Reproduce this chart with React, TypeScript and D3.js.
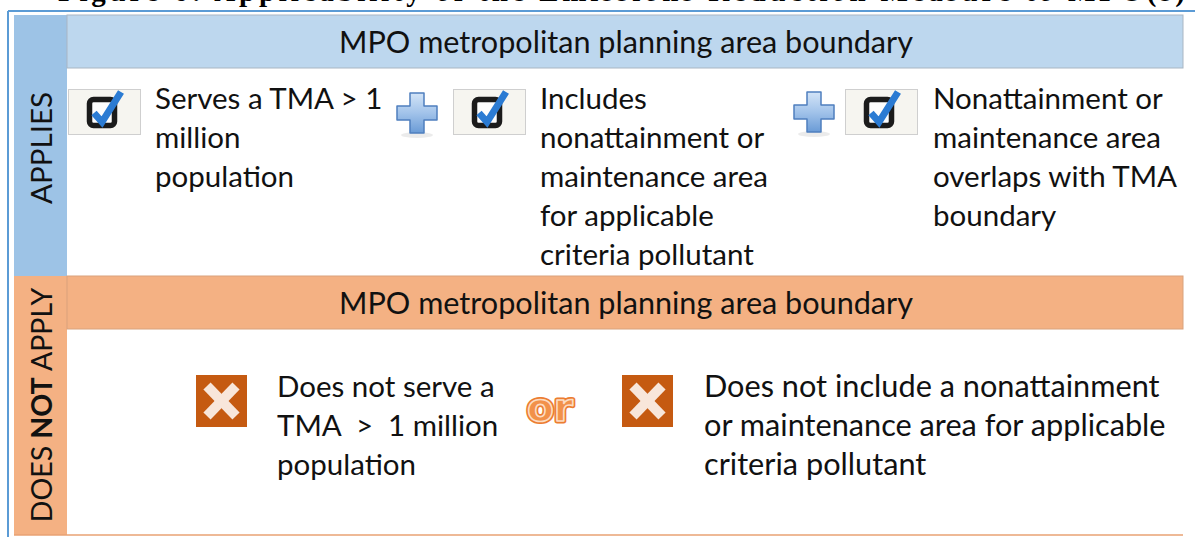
import * as d3 from 'd3';

// text content of the diagram
const titleText = 'Figure 6: Applicability of the Emissions Reduction Measure to MPO(s)';
const headerLabel = 'MPO metropolitan planning area boundary';
const sectionLabels = ['APPLIES', 'DOES NOT APPLY'];
const appliesCriteria = [
  ['Serves a TMA > 1', 'million', 'population'],
  ['Includes', 'nonattainment or', 'maintenance area', 'for applicable', 'criteria pollutant'],
  ['Nonattainment or', 'maintenance area', 'overlaps with TMA', 'boundary'],
];
const notApplyCriteria = [
  ['Does not serve a', 'TMA  >  1 million', 'population'],
  ['Does not include a nonattainment', 'or maintenance area for applicable', 'criteria pollutant'],
];
const connectorWord = 'or';

// layout
const W = 1195;
const H = 537;
const colLeft = 14;
const colRight = 67;
const panelRight = 1183;
const topY = 15;
const splitY = 276;
const headerH = 53;
const bottomY = 535;
const lineH = 39;
const fontSize = 29.5;
const headerFontSize = 30.6;
const textFont = 'Lato, "Open Sans", sans-serif';

const blueDark = '#9dc3e6';
const blueLight = '#bdd7ee';
const orange = '#f4b183';
const xOrange = '#c55a11';

const checkX = [68, 453, 845];
const checkY = 89;
const textX = d3.scaleOrdinal<number, number>().domain([0, 1, 2]).range([155, 540, 933]);
const plusCenters = [[417, 113], [814, 112]];
const firstBaseline = 109;

const crossX = [196, 622];
const crossY = 375;
const crossTextX = [277, 704];
const crossFontSize = [29.5, 30.7];
const crossBaseline = 397;

const CheckIcon = ({ x, y }: { x: number; y: number }) => (
  <g transform={`translate(${x},${y})`}>
    <rect x={0.5} y={0.5} width={72} height={45} fill="#f6f5f0" stroke="#cfcfcf" />
    <rect x={21.5} y={10.5} width={25} height={26} rx={4} fill="#fdfdfd" stroke="#1b1b1b" strokeWidth={5.5} />
    <path
      d={d3.line()([[26, 24], [34, 33], [53, 3]]) ?? ''}
      fill="none"
      stroke="#2b7bd3"
      strokeWidth={7}
      strokeLinejoin="miter"
    />
  </g>
);

const PlusIcon = ({ cx, cy }: { cx: number; cy: number }) => {
  const a = 20;
  const b = 7;
  const pts: [number, number][] = [
    [-b, -a], [b, -a], [b, -b], [a, -b], [a, b], [b, b], [b, a], [-b, a], [-b, b], [-a, b], [-a, -b], [-b, -b],
  ];
  return (
    <g transform={`translate(${cx},${cy})`}>
      <ellipse cx={0} cy={a + 2} rx={16} ry={3} fill="#000" opacity={0.08} />
      <path d={(d3.line()(pts) ?? '') + 'Z'} fill="url(#plusGrad)" stroke="#4f7fbf" strokeWidth={1.5} strokeLinejoin="round" />
    </g>
  );
};

const CrossIcon = ({ x, y }: { x: number; y: number }) => (
  <g transform={`translate(${x},${y})`}>
    <rect x={0} y={0} width={51} height={52} fill={xOrange} />
    <line x1={11} y1={11} x2={40} y2={41} stroke="#f8e6da" strokeWidth={10} />
    <line x1={40} y1={11} x2={11} y2={41} stroke="#f8e6da" strokeWidth={10} />
  </g>
);

const Lines = ({ x, y, lines, size = fontSize }: { x: number; y: number; lines: string[]; size?: number }) => (
  <text x={x} y={y} fontFamily={textFont} fontSize={size} fill="#111">
    {lines.map((line, i) => (
      <tspan key={i} x={x} y={y + i * lineH} xmlSpace="preserve">
        {line}
      </tspan>
    ))}
  </text>
);

export default function App() {
  const headerCx = 626;
  return (
    <svg width={W} height={H} style={{ position: 'absolute', left: 0, top: 0 }}>
      <defs>
        <linearGradient id="plusGrad" x1="0" y1="0" x2="0" y2="1">
          <stop offset="0" stopColor="#d3e4f7" />
          <stop offset="0.5" stopColor="#a2c3ea" />
          <stop offset="1" stopColor="#6a9bd6" />
        </linearGradient>
      </defs>
      <rect width={W} height={H} fill="#fff" />

      {/* figure title, cut off by the top edge */}
      <text x={58} y={1} fontFamily='"Liberation Serif", serif' fontWeight="bold" fontSize={29} textLength={1127} lengthAdjust="spacing">
        {titleText}
      </text>

      {/* outer frame */}
      <line x1={8} y1={11} x2={W} y2={11} stroke="#5b9bd5" strokeWidth={2} />
      <line x1={8} y1={11} x2={8} y2={H} stroke="#5b9bd5" strokeWidth={2} />

      {/* APPLIES panel */}
      <rect x={colLeft} y={topY} width={colRight - colLeft} height={splitY - topY} fill={blueDark} />
      <rect x={colRight} y={topY} width={panelRight - colRight} height={headerH} fill={blueLight} stroke="#a9b6c3" strokeWidth={1} />
      <text x={headerCx} y={topY + headerH / 2 + 11} textAnchor="middle" fontFamily={textFont} fontSize={headerFontSize} fill="#111">
        {headerLabel}
      </text>
      <text
        transform={`translate(${(colLeft + colRight) / 2 + 11},${148}) rotate(-90)`}
        textAnchor="middle"
        fontFamily={textFont}
        fontSize={fontSize}
        fill="#111"
      >
        {sectionLabels[0]}
      </text>

      {checkX.map((cx, i) => (
        <CheckIcon key={i} x={cx} y={checkY} />
      ))}
      {plusCenters.map(([cx, cy], i) => (
        <PlusIcon key={i} cx={cx} cy={cy} />
      ))}
      {appliesCriteria.map((lines, i) => (
        <Lines key={i} x={textX(i)} y={firstBaseline} lines={lines} />
      ))}

      {/* DOES NOT APPLY panel */}
      <rect x={colLeft} y={splitY} width={colRight - colLeft} height={bottomY - splitY} fill={orange} />
      <rect x={colRight} y={splitY} width={panelRight - colRight} height={headerH} fill={orange} stroke="#d9a27c" strokeWidth={1} />
      <line x1={colLeft} y1={bottomY} x2={panelRight} y2={bottomY} stroke="#e9a273" strokeWidth={1.5} />
      <text x={headerCx} y={splitY + headerH / 2 + 11} textAnchor="middle" fontFamily={textFont} fontSize={headerFontSize} fill="#111">
        {headerLabel}
      </text>
      <text
        transform={`translate(${(colLeft + colRight) / 2 + 11},${405}) rotate(-90)`}
        textAnchor="middle"
        fontFamily={textFont}
        fontSize={28.5}
        fill="#111"
      >
        {sectionLabels[1].split(' ').map((word, i) => (
          <tspan key={i} fontWeight={word === 'NOT' ? 'bold' : 'normal'}>
            {(i > 0 ? ' ' : '') + word}
          </tspan>
        ))}
      </text>

      {crossX.map((cx, i) => (
        <CrossIcon key={i} x={cx} y={crossY} />
      ))}
      {notApplyCriteria.map((lines, i) => (
        <Lines key={i} x={crossTextX[i]} y={crossBaseline} lines={lines} size={crossFontSize[i]} />
      ))}

      <text x={550} y={421} textAnchor="middle" fontFamily='"DejaVu Sans", sans-serif' fontWeight="bold" fontSize={39}
        fill="#ec7d31" stroke="#ec7d31" strokeWidth={5} strokeLinejoin="round">
        {connectorWord}
      </text>
      <text x={550} y={421} textAnchor="middle" fontFamily='"DejaVu Sans", sans-serif' fontWeight="bold" fontSize={39}
        fill="#f2914a" stroke="#fcdcc2" strokeWidth={1.6} strokeLinejoin="round">
        {connectorWord}
      </text>
    </svg>
  );
}
